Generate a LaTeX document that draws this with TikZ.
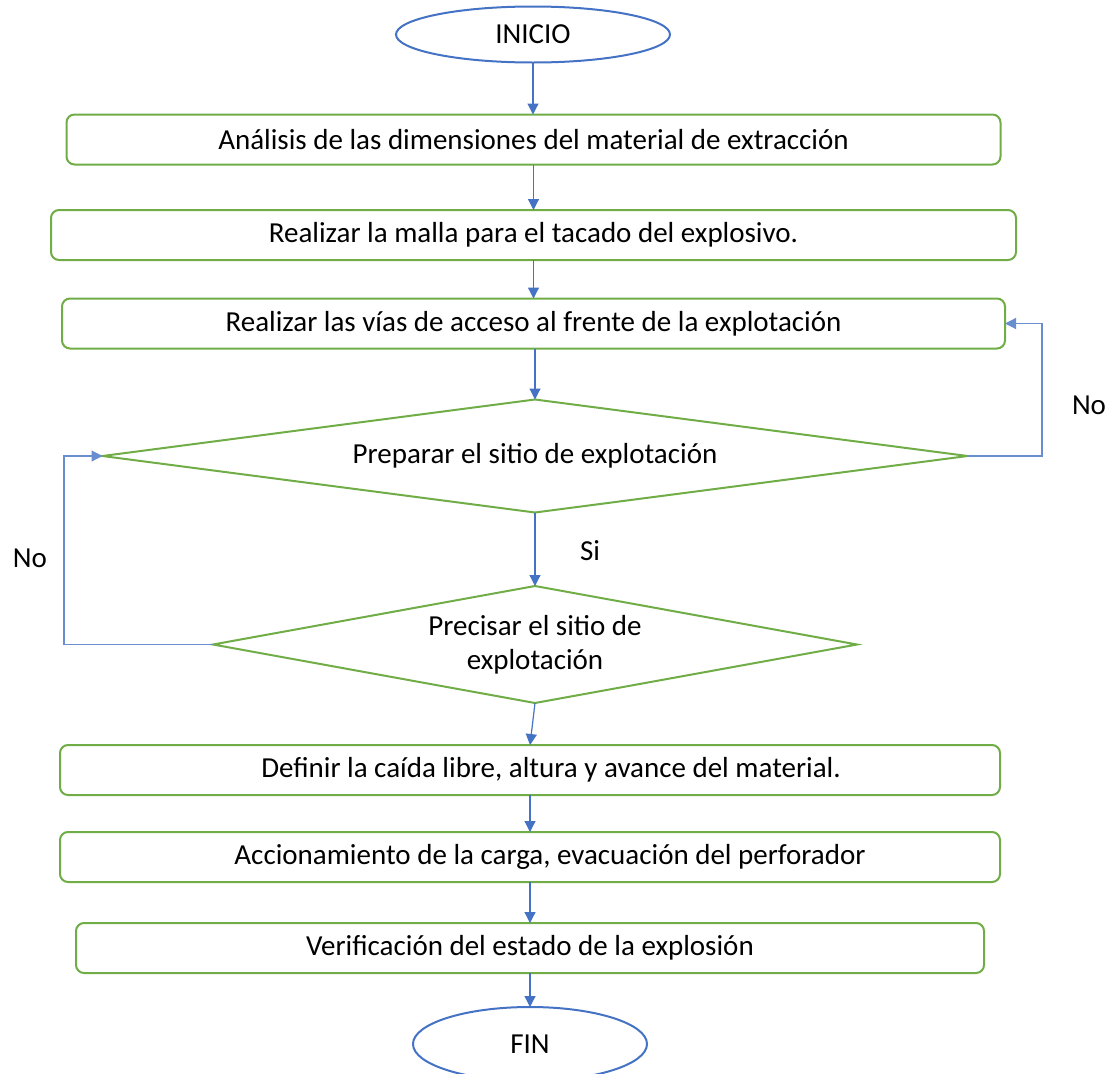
\documentclass[tikz,border=0pt]{standalone}
\usepackage{fontspec}
\setmainfont{Carlito}
\usetikzlibrary{shapes.geometric,arrows.meta}
\definecolor{gr}{HTML}{70AD47}
\definecolor{bl}{HTML}{4472C4}
\begin{document}
\begin{tikzpicture}[x=1pt,y=-1pt,
  every node/.style={font=\fontsize{29}{34}\selectfont, inner sep=0pt, outer sep=0pt},
  procbox/.style={draw=gr, line width=2pt, rounded corners=8pt, minimum height=50pt},
  decision/.style={draw=gr, line width=2pt, diamond, align=center},
  terminal/.style={draw=bl, line width=2pt, ellipse},
  arr/.style={draw=bl, line width=1.2pt, -{Triangle[width=11pt,length=11pt]}},
  loopline/.style={draw=bl!80, line width=1.2pt, -{Triangle[width=11pt,length=11pt]}},
  lbl/.style={font=\fontsize{29}{34}\selectfont}]
\useasboundingbox (0,0) rectangle (1109,1074);
\node[terminal, minimum width=274pt, minimum height=56pt] (ini) at (533,34.5) {INICIO};
\node[procbox, minimum width=934pt] (b1) at (533.5,139.5) {Análisis de las dimensiones\ del material de extracción};
\node[procbox, minimum width=965pt] (b2) at (533.5,235) {Realizar la malla para el tacado del explosivo.};
\node[procbox, minimum width=943pt] (b3) at (533.5,323.5) {Realizar las vías de acceso al frente de la explotación};
\node[decision, aspect=7.655, minimum width=865pt, minimum height=113pt] (d1) at (535,456) {Preparar el sitio de explotación};
\node[decision, aspect=5.504, minimum width=644pt, minimum height=117pt] (d2) at (535,644.5) {Precisar el sitio de\\explotación};
\node[procbox, minimum width=940pt, label={[xshift=21pt]center:Definir la caída libre, altura y avance del material.}] (b4) at (530,770) {};
\node[procbox, minimum width=940pt, label={[xshift=20pt]center:Accionamiento de la carga, evacuación del perforador}] (b5) at (530,857) {};
\node[procbox, minimum width=908pt] (b6) at (530,948) {Verificación del estado de la explosión};
\node[terminal, minimum width=234pt, minimum height=74pt] (fin) at (530,1044) {FIN};
\node[lbl] (si) at (590,551) {Si};
\node[lbl] (no1) at (1089,405) {No};
\node[lbl] (no2) at (30,558) {No};
\coordinate (rx) at (1042,0);
\coordinate (lx) at (64,0);
\draw[arr] (ini.south) -- (ini.south |- b1.north);
\draw[arr] (b2.north |- b1.south) -- (b2.north);
\draw[arr] (b3.north |- b2.south) -- (b3.north);
\draw[arr] (d1.north |- b3.south) -- (d1.north);
\draw[arr] (d1.south) -- (d2.north);
\draw[arr] (d2.south) -- (b4.north);
\draw[arr] (b4.south) -- (b5.north);
\draw[arr] (b5.south) -- (b6.north);
\draw[arr] (b6.south) -- (fin.north);
\draw[loopline] (d1.east) -- (d1.east -| rx) |- (b3.east);
\draw[loopline] (d2.west) -- (d2.west -| lx) |- (d1.west);
\end{tikzpicture}
\end{document}
